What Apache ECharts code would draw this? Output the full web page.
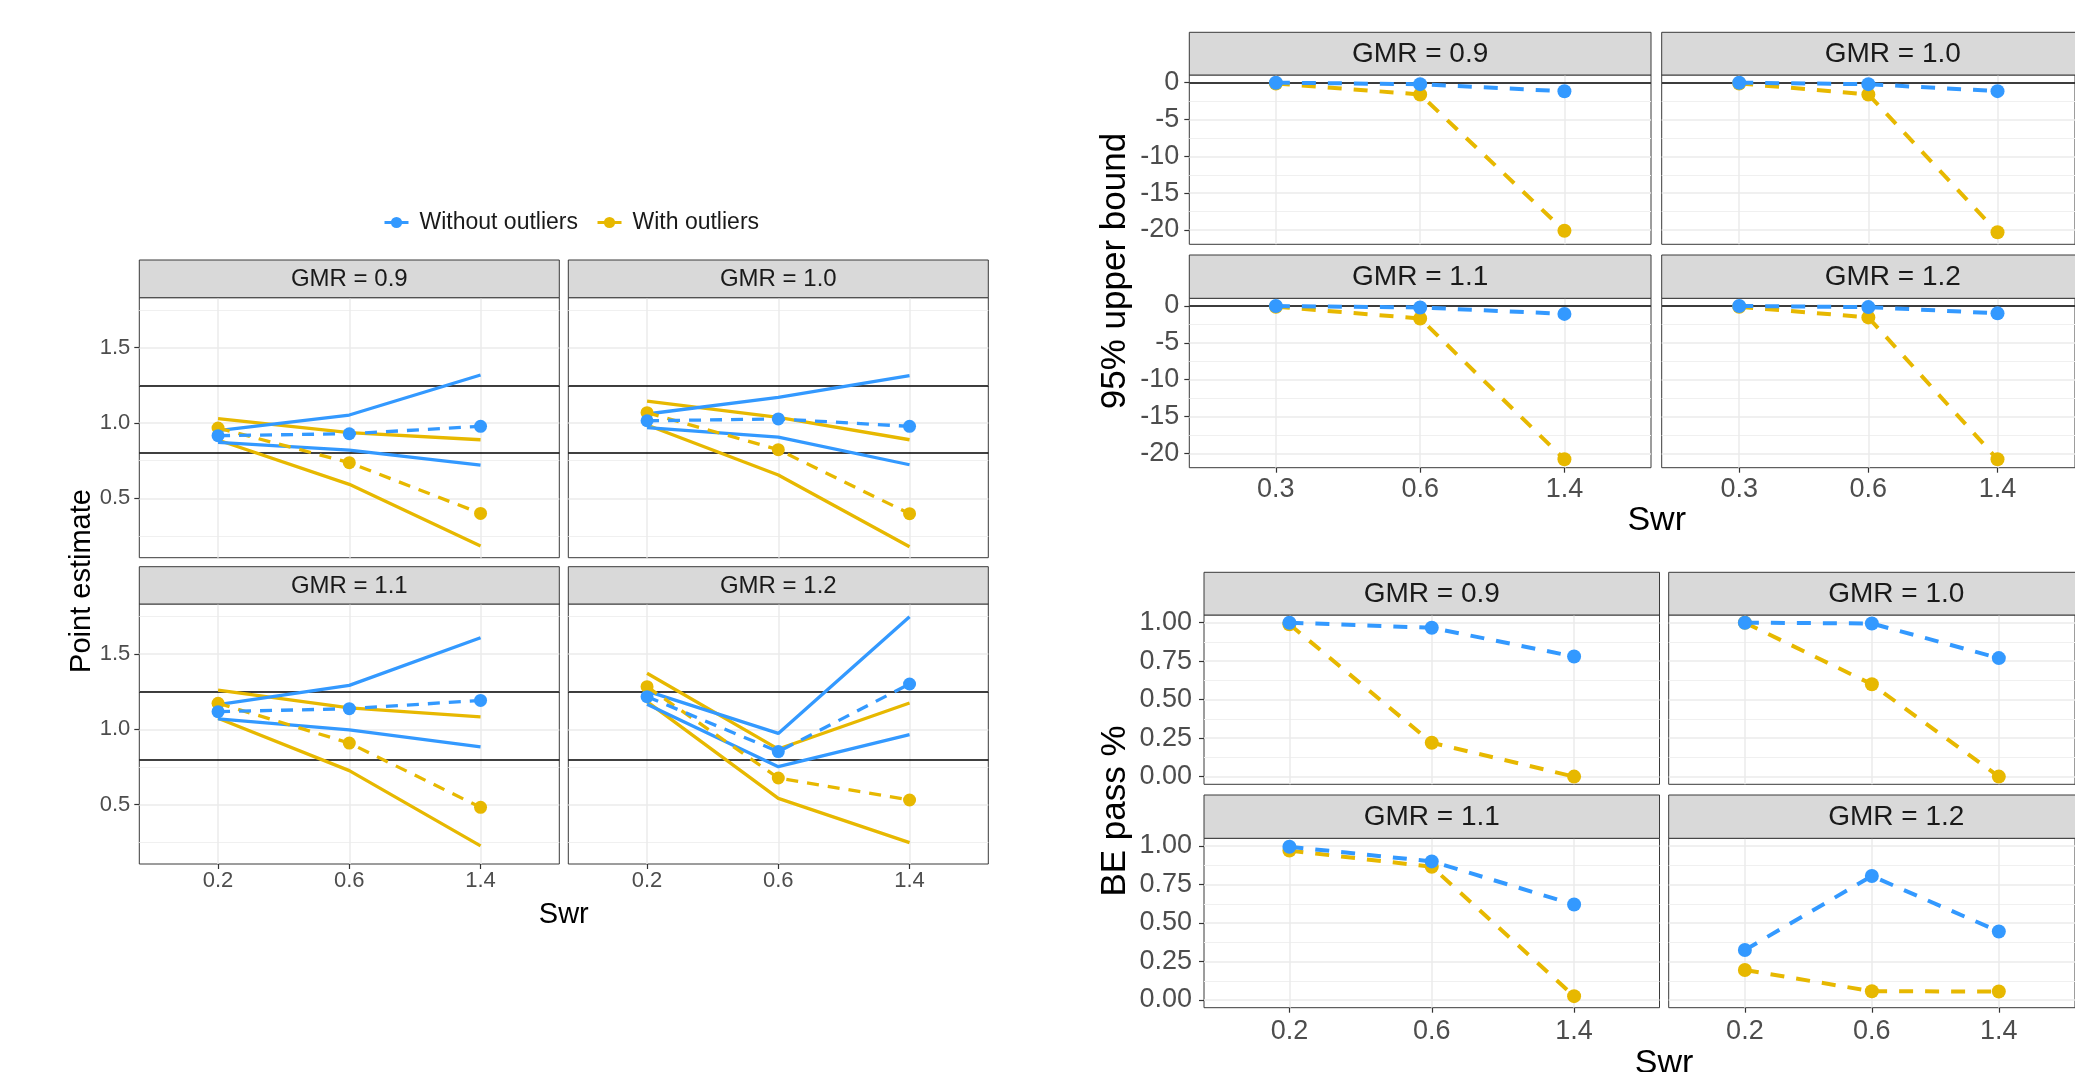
<!DOCTYPE html>
<html><head><meta charset="utf-8">
<script src="https://cdn.jsdelivr.net/npm/echarts@6/dist/echarts.min.js"></script>
<style>html,body{margin:0;padding:0;background:#fff}#c{width:2075px;height:1072px}</style>
</head><body><div id="c"></div>
<script>
// ---------------- DATA ----------------
const facetLabels = ['GMR = 0.9', 'GMR = 1.0', 'GMR = 1.1', 'GMR = 1.2'];
const legendNames = ['Without outliers', 'With outliers'];

// Panel 1: Point estimate
const peSwr = ['0.2', '0.6', '1.4'];
const peTicks = [0.5, 1.0, 1.5];
const peMinorTicks = [0.25, 0.75, 1.25, 1.75];
const peRefLines = [0.8, 1.25];
const peWithoutEst   = [[0.916, 0.929, 0.978], [1.015, 1.027, 0.978], [1.117, 1.137, 1.192], [1.217, 0.852, 1.301]];
const peWithoutLower = [[0.872, 0.820, 0.720], [0.969, 0.907, 0.723], [1.069, 0.996, 0.883], [1.166, 0.752, 0.965]];
const peWithoutUpper = [[0.950, 1.053, 1.319], [1.060, 1.170, 1.314], [1.164, 1.292, 1.608], [1.254, 0.973, 1.748]];
const peWithEst      = [[0.967, 0.737, 0.400], [1.069, 0.823, 0.398], [1.173, 0.909, 0.482], [1.283, 0.677, 0.531]];
const peWithLower    = [[0.887, 0.593, 0.184], [0.987, 0.655, 0.179], [1.073, 0.726, 0.226], [1.184, 0.542, 0.248]];
const peWithUpper    = [[1.029, 0.936, 0.889], [1.146, 1.038, 0.889], [1.261, 1.142, 1.082], [1.372, 0.869, 1.175]];

// Panel 2: 95% upper bound
const ubSwr = ['0.3', '0.6', '1.4'];
const ubTicks = [-20, -15, -10, -5, 0];
const ubMinorTicks = [-17.5, -12.5, -7.5, -2.5];
const ubRefLines = [0];
const ubWithout = [[0, -0.2, -1.17], [0, -0.2, -1.15], [0, -0.2, -1.07], [0, -0.15, -1.0]];
const ubWith    = [[-0.1, -1.6, -20.1], [-0.1, -1.6, -20.3], [-0.1, -1.7, -20.8], [-0.1, -1.55, -20.8]];

// Panel 3: BE pass %
const beSwr = ['0.2', '0.6', '1.4'];
const beTicks = [0, 0.25, 0.5, 0.75, 1.0];
const beMinorTicks = [0.125, 0.375, 0.625, 0.875];
const beWithout = [[1.0, 0.967, 0.78], [1.0, 0.995, 0.77], [0.995, 0.90, 0.62], [0.325, 0.805, 0.445]];
const beWith    = [[0.99, 0.22, 0.0], [1.0, 0.60, 0.0], [0.97, 0.865, 0.025], [0.195, 0.057, 0.055]];

// ---------------- STYLE / LAYOUT ----------------
const FONT = "'Liberation Sans', Arial, sans-serif";
const BLUE = '#3399FF', YELLOW = '#E7B800';

const panels = [
  { swr: peSwr, ticks: peTicks, minor: peMinorTicks, refs: peRefLines, dec: 1,
    xs: [[139.3, 559.3], [568.3, 988.3]], rows: [[260, 297.7, 557.7], [566.7, 604, 864]],
    yMin: 0.106, yMax: 1.832, tickFont: 22, stripFont: 24, xMargin: 6, yMargin: 9,
    lineW: 3.3, dash: [12, 9], sym: 13,
    lines: [
      { data: peWithLower, color: YELLOW, name: 'With outliers (CI)', dashed: false },
      { data: peWithUpper, color: YELLOW, name: 'With outliers (CI)', dashed: false },
      { data: peWithoutLower, color: BLUE, name: 'Without outliers (CI)', dashed: false },
      { data: peWithoutUpper, color: BLUE, name: 'Without outliers (CI)', dashed: false },
      { data: peWithEst, color: YELLOW, name: 'With outliers', dashed: true },
      { data: peWithoutEst, color: BLUE, name: 'Without outliers', dashed: true }
    ],
    yTitle: { text: 'Point estimate', x: 82, y: 581, size: 29 },
    xTitle: { text: 'Swr', x: 563.8, y: 915, size: 29 } },
  { swr: ubSwr, ticks: ubTicks, minor: ubMinorTicks, refs: ubRefLines, dec: 0,
    xs: [[1189.3, 1651], [1661.7, 2124]], rows: [[32.3, 75, 244.3], [255, 298.3, 467.7]],
    yMin: -21.94, yMax: 1.045, tickFont: 27, stripFont: 28, xMargin: 8, yMargin: 10,
    lineW: 4, dash: [14, 12], sym: 14,
    lines: [
      { data: ubWith, color: YELLOW, name: 'With outliers', dashed: true },
      { data: ubWithout, color: BLUE, name: 'Without outliers', dashed: true }
    ],
    yTitle: { text: '95% upper bound', x: 1115, y: 271, size: 35 },
    xTitle: { text: 'Swr', x: 1656.7, y: 521, size: 34 } },
  { swr: beSwr, ticks: beTicks, minor: beMinorTicks, refs: [], dec: 2,
    xs: [[1204, 1659.5], [1668.7, 2124]], rows: [[572.3, 615, 784.3], [795, 838.3, 1007.7]],
    yMin: -0.05, yMax: 1.05, tickFont: 27, stripFont: 28, xMargin: 10, yMargin: 12,
    lineW: 4, dash: [14, 12], sym: 14,
    lines: [
      { data: beWith, color: YELLOW, name: 'With outliers', dashed: true },
      { data: beWithout, color: BLUE, name: 'Without outliers', dashed: true }
    ],
    yTitle: { text: 'BE pass %', x: 1115, y: 811, size: 35 },
    xTitle: { text: 'Swr', x: 1664, y: 1064, size: 34 } }
];

const grids = [], xAxes = [], yAxes = [], series = [], graphics = [];

panels.forEach(cfg => {
  for (let f = 0; f < 4; f++) {
    const col = f % 2, row = Math.floor(f / 2);
    const [x0, x1] = cfg.xs[col];
    const [sTop, pTop, pBot] = cfg.rows[row];
    const gi = grids.length;
    grids.push({ left: x0, top: pTop, width: x1 - x0, height: pBot - pTop,
      show: true, borderColor: '#3a3a3a', borderWidth: 1, backgroundColor: 'transparent' });
    xAxes.push({ type: 'value', gridIndex: gi, min: -0.6, max: 2.6, position: 'bottom',
      axisLine: { show: false, onZero: false },
      axisTick: { show: row === 1, customValues: [0, 1, 2], length: 5, lineStyle: { color: '#333', width: 1.2 } },
      axisLabel: { show: row === 1, customValues: [0, 1, 2], formatter: v => cfg.swr[Math.round(v)],
        fontSize: cfg.tickFont, color: '#4D4D4D', margin: cfg.xMargin, fontFamily: FONT },
      splitLine: { show: true, lineStyle: { color: '#EBEBEB', width: 1.5 } } });
    yAxes.push({ type: 'value', gridIndex: gi, min: cfg.yMin, max: cfg.yMax, position: 'left',
      axisLine: { show: false, onZero: false },
      axisTick: { show: col === 0, customValues: cfg.ticks, length: 5, lineStyle: { color: '#333', width: 1.2 } },
      axisLabel: { show: col === 0, customValues: cfg.ticks, formatter: v => v.toFixed(cfg.dec),
        fontSize: cfg.tickFont, color: '#4D4D4D', margin: cfg.yMargin, fontFamily: FONT },
      splitLine: { show: true, lineStyle: { color: '#EBEBEB', width: 1.5 } } });
    yAxes.push({ type: 'value', gridIndex: gi, min: cfg.yMin, max: cfg.yMax, position: 'left',
      axisLine: { show: false, onZero: false },
      axisTick: { show: false, customValues: cfg.minor },
      axisLabel: { show: false, customValues: cfg.minor },
      splitLine: { show: true, lineStyle: { color: '#F0F0F0', width: 1 } } });

    graphics.push({ type: 'rect', z: 10, shape: { x: x0, y: sTop, width: x1 - x0, height: pTop - sTop },
      style: { fill: '#D9D9D9', stroke: '#3a3a3a', lineWidth: 1 } });
    graphics.push({ type: 'text', z: 11, x: (x0 + x1) / 2, y: (sTop + pTop) / 2 + 1,
      style: { text: facetLabels[f], fontSize: cfg.stripFont, fontFamily: FONT, fill: '#1A1A1A',
        align: 'center', verticalAlign: 'middle' } });

    cfg.lines.forEach((ln, li) => {
      const s = {
        type: 'line', name: ln.name, xAxisIndex: gi, yAxisIndex: 2 * gi,
        data: ln.data[f].map((v, i) => [i, v]),
        symbol: ln.dashed ? 'circle' : 'none', showSymbol: ln.dashed, symbolSize: cfg.sym,
        itemStyle: { color: ln.color }, lineStyle: { color: ln.color, width: cfg.lineW, type: ln.dashed ? cfg.dash : 'solid' },
        animation: false, silent: true, z: 3 + li
      };
      if (li === 0 && cfg.refs.length) {
        s.markLine = { silent: true, symbol: 'none', label: { show: false }, z: 2,
          lineStyle: { color: '#000', width: 1.6, type: 'solid' },
          data: cfg.refs.map(r => ({ yAxis: r })) };
      }
      series.push(s);
    });
  }
  graphics.push({ type: 'text', x: cfg.yTitle.x, y: cfg.yTitle.y, rotation: Math.PI / 2,
    style: { text: cfg.yTitle.text, fontSize: cfg.yTitle.size, fontFamily: FONT, fill: '#000', align: 'center', verticalAlign: 'middle' } });
  graphics.push({ type: 'text', x: cfg.xTitle.x, y: cfg.xTitle.y,
    style: { text: cfg.xTitle.text, fontSize: cfg.xTitle.size, fontFamily: FONT, fill: '#000', align: 'center', verticalAlign: 'middle' } });
});

const chart = echarts.init(document.getElementById('c'), null, { renderer: 'canvas' });
chart.setOption({
  backgroundColor: '#fff',
  animation: false,
  legend: { data: legendNames, left: 378, top: 206, itemWidth: 24, itemHeight: 14, itemGap: 18,
    lineStyle: { type: 'solid', width: 3 },
    textStyle: { fontSize: 23, color: '#1A1A1A', fontFamily: FONT, padding: [0, 0, 0, 6] } },
  grid: grids, xAxis: xAxes, yAxis: yAxes, series: series, graphic: graphics
});
</script></body></html>
